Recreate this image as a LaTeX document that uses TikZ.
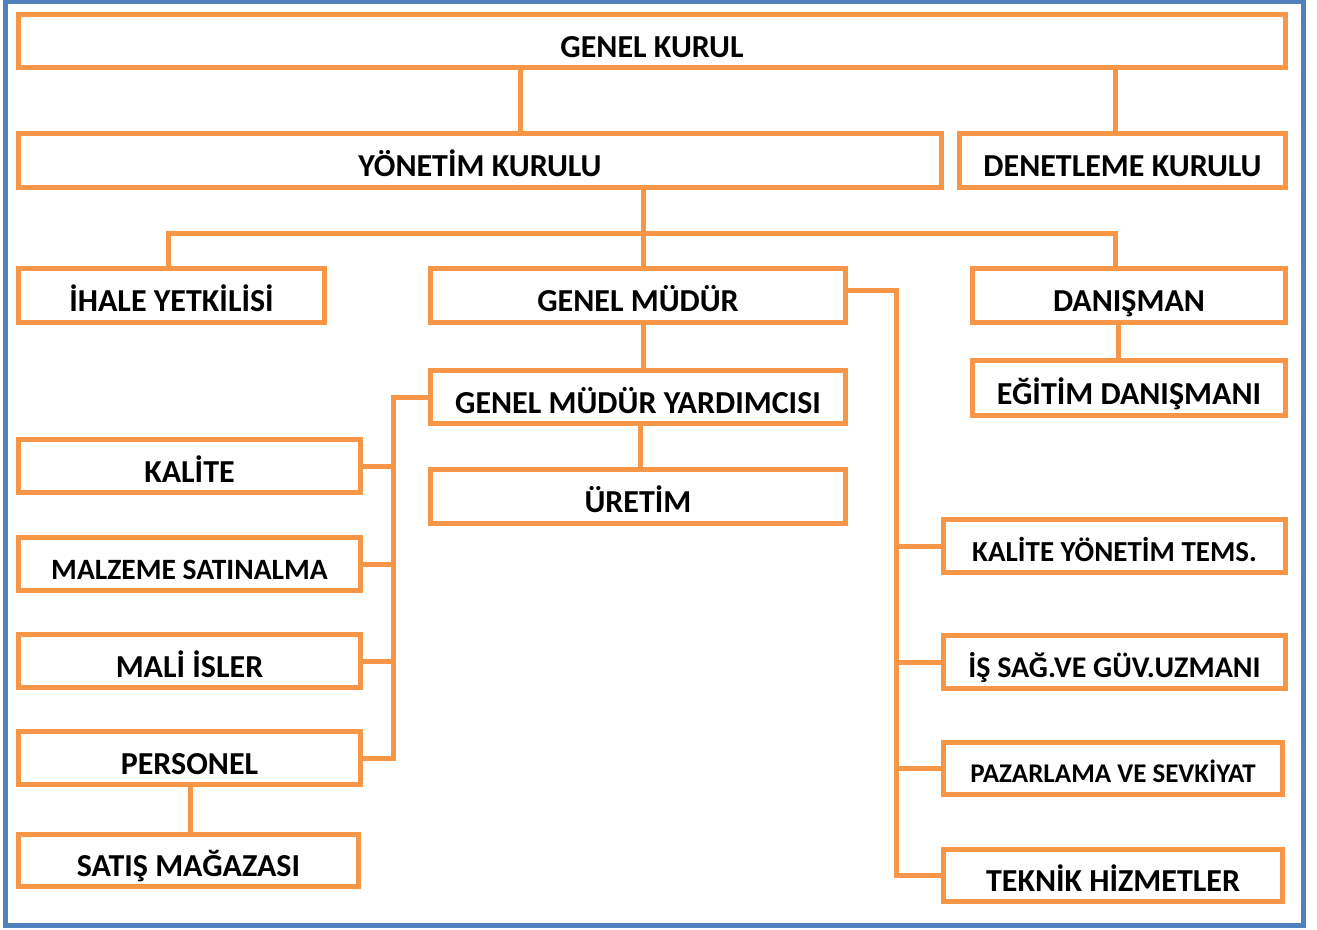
\documentclass[tikz,border=0pt]{standalone}
\usepackage{fontspec}
\setmainfont{Carlito}
\definecolor{borange}{RGB}{247,150,70}
\definecolor{bblue}{RGB}{79,129,189}
\tikzset{
  orgbox/.style={draw=borange, line width=5pt, fill=white, inner sep=0pt,
    minimum height=54pt, text height=32pt, text depth=0pt,
    font=\fontsize{32}{38}\selectfont\bfseries},
  fs295/.style={font=\fontsize{29.5}{35}\selectfont\bfseries, text height=30pt},
  fs27/.style={font=\fontsize{27}{32}\selectfont\bfseries, text height=28.5pt},
  fs29/.style={font=\fontsize{29}{34}\selectfont\bfseries, text height=30pt},
  fs30/.style={font=\fontsize{30}{35}\selectfont\bfseries, text height=30.5pt},
  link/.style={draw=borange, line width=5pt}
}
\begin{document}
\begin{tikzpicture}[x=1pt,y=-1pt]
\fill[white] (0,0) rectangle (1317,929);
\useasboundingbox (0,0) rectangle (1317,929);
\draw[bblue, line width=5pt] (5.5,1.5) rectangle (1303,925);
% boxes
\node[orgbox, minimum width=1267pt, minimum height=53pt] (gk) at (652,41) {GENEL KURUL};
\node[orgbox, minimum width=923pt] (yk) at (480,160.5) {YÖNETİM KURULU};
\node[orgbox, minimum width=326pt] (dk) at (1122.5,160.5) {DENETLEME KURULU};
\node[orgbox, minimum width=306pt] (ih) at (171.5,295.5) {İHALE YETKİLİSİ};
\node[orgbox, minimum width=415pt] (gm) at (638,295.5) {GENEL MÜDÜR};
\node[orgbox, minimum width=313pt] (da) at (1129,295.5) {DANIŞMAN};
\node[orgbox, minimum width=313pt, minimum height=55pt] (ed) at (1129,388) {EĞİTİM DANIŞMANI};
\node[orgbox, minimum width=415pt, minimum height=53pt] (gmy) at (638,397) {GENEL MÜDÜR YARDIMCISI};
\node[orgbox, minimum width=415pt] (ur) at (638,496.5) {ÜRETİM};
\node[orgbox, minimum width=342pt, minimum height=53pt] (ka) at (189.5,466) {KALİTE};
\node[orgbox, fs295, minimum width=342pt, minimum height=53pt] (ms) at (189.5,564) {MALZEME SATINALMA};
\node[orgbox, minimum width=342pt, minimum height=53pt] (mi) at (189.5,661) {MALİ İSLER};
\node[orgbox, minimum width=342pt, minimum height=53pt] (pe) at (189.5,758) {PERSONEL};
\node[orgbox, minimum width=340pt, minimum height=52pt] (sm) at (188.5,860.5) {SATIŞ MAĞAZASI};
\node[orgbox, fs29, minimum width=342pt, minimum height=53pt] (kyt) at (1114.5,546) {KALİTE YÖNETİM TEMS.};
\node[orgbox, fs30, minimum width=342pt, minimum height=53pt] (is) at (1114.5,662) {İŞ SAĞ.VE GÜV.UZMANI};
\node[orgbox, fs27, minimum width=339pt, minimum height=52pt] (pz) at (1113,768.5) {PAZARLAMA VE SEVKİYAT};
\node[orgbox, minimum width=339pt, minimum height=52pt] (tk) at (1113,875.5) {TEKNİK HİZMETLER};
% junction coordinates
\coordinate (a1) at (520,0);
\coordinate (a2) at (1115,0);
\coordinate (b0) at (168,233);
\coordinate (b1) at (643,233);
\coordinate (b2) at (1115,233);
\coordinate (d1) at (1118,0);
\coordinate (g1) at (643,0);
\coordinate (g2) at (640,0);
\coordinate (rb) at (896,290);
\coordinate (lb) at (393,0);
\coordinate (p1) at (190,0);
% connectors
\draw[link] (gk.south -| a1) -- (yk.north -| a1);
\draw[link] (gk.south -| a2) -- (dk.north -| a2);
\draw[link] (yk.south -| b1) -- (gm.north -| b1);
\draw[link] (ih.north -| b0) -- (b0) -- (b2) -- (da.north -| b2);
\draw[link] (da.south -| d1) -- (ed.north -| d1);
\draw[link] (gm.south -| g1) -- (gmy.north -| g1);
\draw[link] (gmy.south -| g2) -- (ur.north -| g2);
\draw[link] (gm.east |- rb) -- (rb) -- (rb |- tk.west) -- (tk.west);
\draw[link] (rb |- kyt.west) -- (kyt.west);
\draw[link] (rb |- is.west) -- (is.west);
\draw[link] (rb |- pz.west) -- (pz.west);
\draw[link] (gmy.west) -- (gmy.west -| lb) -- (lb |- pe.east) -- (pe.east);
\draw[link] (lb |- ka.east) -- (ka.east);
\draw[link] (lb |- ms.east) -- (ms.east);
\draw[link] (lb |- mi.east) -- (mi.east);
\draw[link] (pe.south -| p1) -- (sm.north -| p1);
\end{tikzpicture}
\end{document}
